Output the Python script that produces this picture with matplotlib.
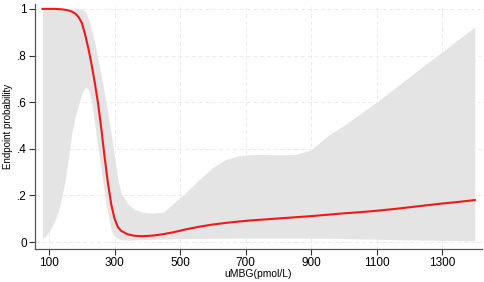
import numpy as np
import matplotlib.pyplot as plt

plt.rcParams["font.family"] = ["Liberation Sans", "DejaVu Sans"]

# uMBG values (pmol/L) where the curves were read
umbg = [80, 90, 100, 110, 120, 130, 140, 150, 160, 170, 180, 190, 200,
        210, 220, 230, 240, 250, 260, 270, 280, 290, 300, 310, 320, 340,
        360, 380, 400, 420, 450, 480, 520, 560, 600, 640, 680, 720, 760,
        800, 850, 900, 950, 1000, 1050, 1100, 1150, 1200, 1250, 1300, 1350, 1400]

prob = [1.0, 1.0, 1.0, 1.0, 1.0, 0.999, 0.998, 0.996, 0.993, 0.988, 0.98, 0.965, 0.94,
        0.89, 0.83, 0.76, 0.68, 0.59, 0.48, 0.36, 0.25, 0.16, 0.10, 0.064, 0.048, 0.033,
        0.027, 0.025, 0.026, 0.028, 0.034, 0.042, 0.055, 0.066, 0.075, 0.082, 0.088, 0.093, 0.097,
        0.101, 0.106, 0.111, 0.117, 0.123, 0.128, 0.134, 0.141, 0.149, 0.157, 0.165, 0.172, 0.18]

ci_upper = [1.0, 1.0, 1.0, 1.0, 1.0, 1.0, 1.0, 1.0, 1.0, 1.0, 1.0, 1.0, 1.0,
            0.99, 0.96, 0.91, 0.85, 0.78, 0.71, 0.63, 0.55, 0.46, 0.36, 0.27, 0.21, 0.165,
            0.14, 0.13, 0.125, 0.124, 0.13, 0.165, 0.215, 0.27, 0.32, 0.355, 0.37, 0.375, 0.375,
            0.374, 0.375, 0.395, 0.455, 0.50, 0.55, 0.60, 0.654, 0.708, 0.762, 0.815, 0.869, 0.923]

ci_lower = [0.015, 0.025, 0.045, 0.07, 0.10, 0.14, 0.20, 0.27, 0.37, 0.47, 0.54, 0.59, 0.635,
            0.665, 0.655, 0.60, 0.50, 0.40, 0.30, 0.20, 0.12, 0.05, 0.025, 0.015, 0.01, 0.008,
            0.009, 0.01, 0.011, 0.012, 0.013, 0.014, 0.015, 0.015, 0.016, 0.016, 0.017, 0.017, 0.017,
            0.017, 0.017, 0.016, 0.016, 0.015, 0.013, 0.012, 0.01, 0.009, 0.008, 0.007, 0.006, 0.005]

xticks = [100, 300, 500, 700, 900, 1100, 1300]
yticks = [0, 0.2, 0.4, 0.6, 0.8, 1.0]
ylabels = ["0", ".2", ".4", ".6", ".8", "1"]

fig = plt.figure(figsize=(4.84, 2.82), dpi=100)
ax = fig.add_axes([0.0723, 0.117, 0.9236, 0.868])

ax.fill_between(umbg, ci_lower, ci_upper, color="#e4e4e4", linewidth=0, zorder=2)
ax.plot(umbg, prob, color="#f01818", linewidth=1.5, zorder=3)

ax.set_xlim(57, 1422)
ax.set_ylim(-0.03, 1.02)
ax.set_xticks(xticks)
ax.set_yticks(yticks)
ax.set_yticklabels(ylabels)
ax.tick_params(labelsize=8.5, length=4, width=0.8, color="#333333", pad=2)

ax.grid(True, color="#ebebeb", linestyle=(0, (4, 3)), linewidth=0.7)
ax.set_axisbelow(True)

for s in ["top", "right"]:
    ax.spines[s].set_visible(False)
for s in ["left", "bottom"]:
    ax.spines[s].set_color("#555555")
    ax.spines[s].set_linewidth(0.9)

ax.set_xlabel("uMBG(pmol/L)", fontsize=7.5, labelpad=0)
ax.set_ylabel("Endpoint probability", fontsize=7, labelpad=3)

plt.savefig("out.png", dpi=100)
plt.close()
